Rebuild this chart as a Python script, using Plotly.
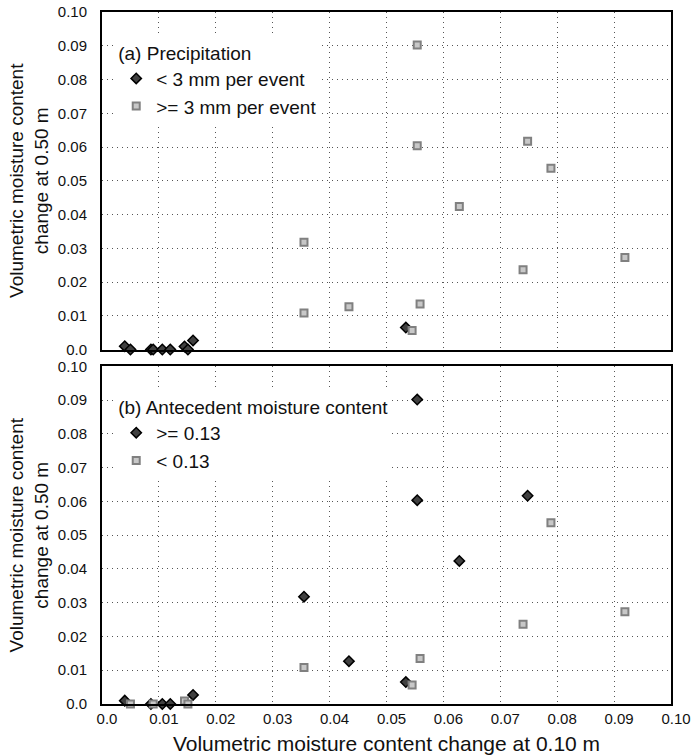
import plotly.graph_objects as go
from plotly.subplots import make_subplots

# Event-wise volumetric moisture content changes at two depths
dvmc_010 = [0.0040, 0.0050, 0.0086, 0.0090, 0.0106, 0.0120, 0.0145, 0.0151, 0.0160,
            0.0534, 0.0545, 0.0355, 0.0434, 0.0559, 0.0740, 0.0919, 0.0355, 0.0628,
            0.0789, 0.0554, 0.0748, 0.0554]
dvmc_050 = [0.0010, 0.0000, 0.0000, 0.0000, 0.0000, 0.0000, 0.0009, 0.0000, 0.0027,
            0.0065, 0.0056, 0.0108, 0.0127, 0.0135, 0.0236, 0.0273, 0.0318, 0.0424,
            0.0537, 0.0604, 0.0617, 0.0902]
# True where precipitation was below 3 mm per event
small_rain = [True, True, True, True, True, True, True, True, True,
              True, False, False, False, False, False, False, False, False,
              False, False, False, False]
# True where antecedent moisture content was >= 0.13
wet_start = [True, False, True, False, True, True, False, False, True,
             True, False, False, True, False, False, False, True, True,
             False, True, True, True]

tick_vals = [0.0, 0.01, 0.02, 0.03, 0.04, 0.05, 0.06, 0.07, 0.08, 0.09, 0.10]
tick_text = ["0.0", "0.01", "0.02", "0.03", "0.04", "0.05", "0.06", "0.07", "0.08", "0.09", "0.10"]

FONT = "Liberation Sans, Arial, sans-serif"
INK = "#111111"

diamond = dict(symbol="diamond", size=8, color="#404040", line=dict(color="#000000", width=1.5))
square = dict(symbol="square", size=7, color="#c8c8c8", line=dict(color="#808080", width=2))

fig = make_subplots(rows=2, cols=1, shared_xaxes=True, vertical_spacing=0.0245)


def pick(values, mask, flag):
    return [v for v, m in zip(values, mask) if m == flag]


# (a) split by rainfall amount
fig.add_trace(go.Scatter(x=pick(dvmc_010, small_rain, True), y=pick(dvmc_050, small_rain, True),
                         mode="markers", marker=diamond, name="< 3 mm per event",
                         legend="legend", cliponaxis=False), row=1, col=1)
fig.add_trace(go.Scatter(x=pick(dvmc_010, small_rain, False), y=pick(dvmc_050, small_rain, False),
                         mode="markers", marker=square, name=">= 3 mm per event",
                         legend="legend", cliponaxis=False), row=1, col=1)

# (b) split by antecedent moisture
fig.add_trace(go.Scatter(x=pick(dvmc_010, wet_start, True), y=pick(dvmc_050, wet_start, True),
                         mode="markers", marker=diamond, name=">= 0.13",
                         legend="legend2", cliponaxis=False), row=2, col=1)
fig.add_trace(go.Scatter(x=pick(dvmc_010, wet_start, False), y=pick(dvmc_050, wet_start, False),
                         mode="markers", marker=square, name="< 0.13",
                         legend="legend2", cliponaxis=False), row=2, col=1)

axis_common = dict(
    range=[0, 0.10], tickvals=tick_vals, ticktext=tick_text, automargin=False,
    showline=True, mirror=True, linecolor="#000000", linewidth=2,
    showgrid=True, gridcolor="#555555", gridwidth=1, griddash="1px,4px",
    zeroline=False, ticks="", tickfont=dict(size=15, color=INK, family=FONT),
)

fig.update_xaxes(**axis_common)
fig.update_yaxes(**axis_common)
fig.update_xaxes(ticklabelshift=5, row=2, col=1,
                 title=dict(text="Volumetric moisture content change at 0.10 m",
                            font=dict(size=21, family=FONT, color=INK), standoff=10))
fig.update_yaxes(ticklabelstandoff=10)
for r in (1, 2):
    fig.update_yaxes(row=r, col=1,
                     title=dict(text="Volumetric moisture content<br>change at 0.50 m",
                                font=dict(size=19, family=FONT, color=INK), standoff=4))

legend_common = dict(
    bgcolor="#ffffff", borderwidth=0, xanchor="left", yanchor="top",
    font=dict(size=19, family=FONT, color=INK),
    itemwidth=30, tracegroupgap=0, itemclick=False,
)
fig.update_layout(
    width=696, height=756,
    margin=dict(l=102, r=25, t=12, b=52),
    paper_bgcolor="#ffffff", plot_bgcolor="#ffffff",
    font=dict(family=FONT, size=15, color=INK),
    legend=dict(x=0.025, y=0.967, title=dict(text="(a) Precipitation", font=dict(size=19)),
                **legend_common),
    legend2=dict(x=0.025, y=0.455, title=dict(text="(b) Antecedent moisture content",
                                               font=dict(size=19)),
                 **legend_common),
)

fig.write_html("out.html")
